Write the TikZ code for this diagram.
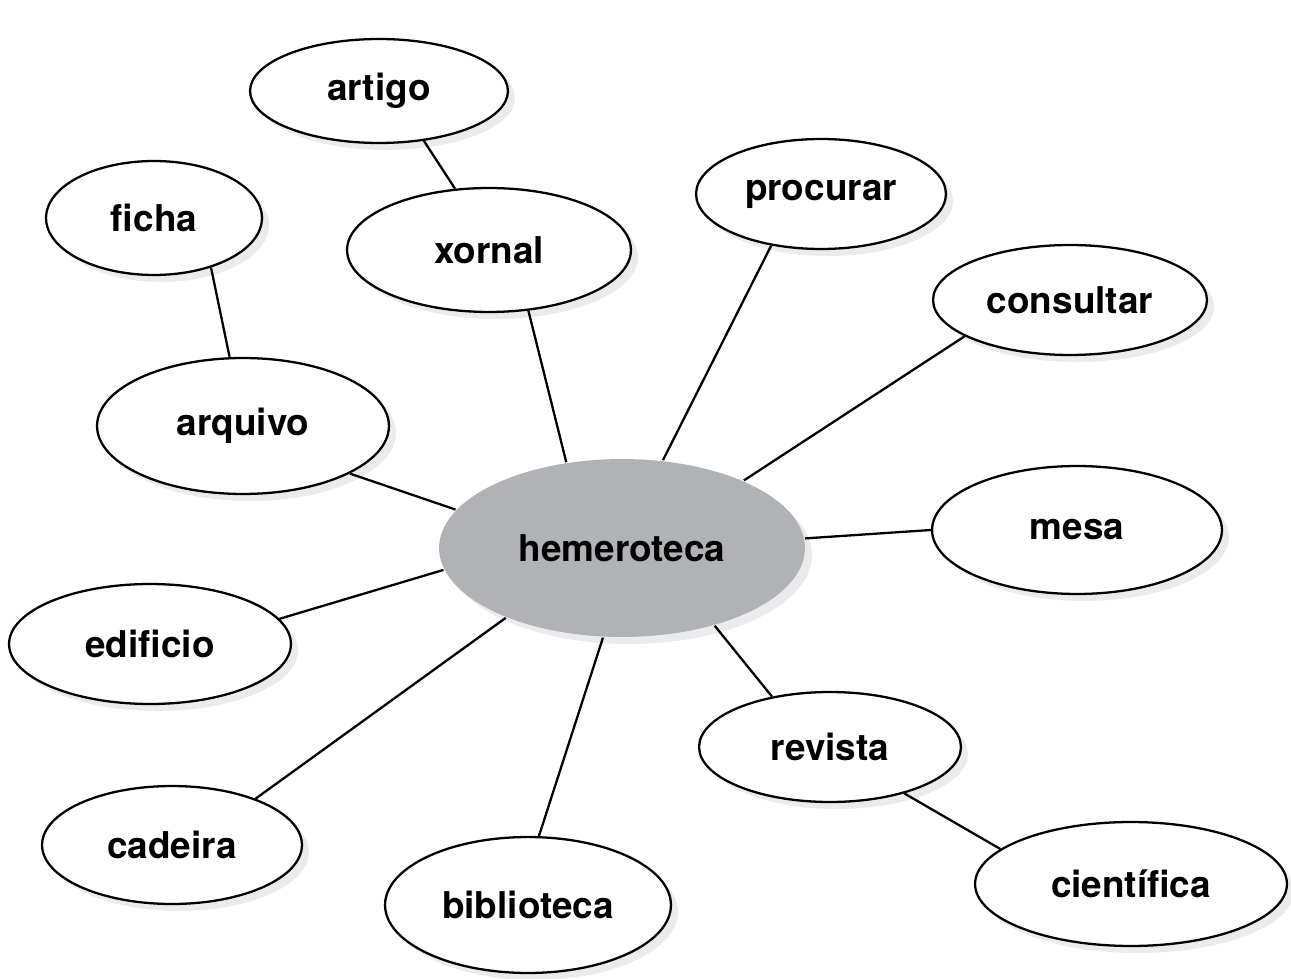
\documentclass[tikz,border=0pt]{standalone}
\usepackage{fontspec}
\setmainfont{TeX Gyre Heros}
\usepackage{tikz}
\usetikzlibrary{shapes.geometric}
\usetikzlibrary{shadows}
\definecolor{hubgray}{HTML}{B1B2B5}

\begin{document}
\begin{tikzpicture}[x=0.02cm,y=-0.02cm,
    word/.style 2 args={ellipse, draw, line width=1.3pt, fill=white,
    inner sep=0pt, minimum width=#1*0.04cm, minimum height=#2*0.04cm,
    font=\fontsize{21}{25}\selectfont\bfseries,
    drop shadow={shadow xshift=4pt, shadow yshift=-4pt, fill=black, opacity=.08}},
    link/.style={line width=1.3pt}]
    \useasboundingbox (0,0) rectangle (1291,979);

    % hub
    \node [word={183}{89}, draw=none, fill=hubgray] (hem) at (622,548) {hemeroteca};

    % words around it
    \node [word={129}{52}] (artigo) at (379,91) {artigo};
    \node [word={108}{57}] (ficha) at (154,218) {ficha};
    \node [word={142}{62}] (xornal) at (489,250) {xornal};
    \node [word={125}{55}] (procurar) at (821,194) {procurar};
    \node [word={137}{55}] (consultar) at (1070,300) {consultar};
    \node [word={146}{68}] (arquivo) at (243,426) {arquivo};
    \node [word={145}{64}] (mesa) at (1077,530) {mesa};
    \node [word={141}{60}] (edificio) at (150,644) {edificio};
    \node [word={131}{55}] (revista) at (830,747) {revista};
    \node [word={130}{59}] (cadeira) at (172,845) {cadeira};
    \node [word={143}{68}] (biblioteca) at (528,905) {biblioteca};
    \node [word={156}{62}] (cientifica) at (1131,884) {científica};

    % links
    \draw [link] (hem.123.8) -- (xornal.303.5);
    \draw [link] (hem.65.1) -- (procurar.226.6);
    \draw [link] (hem.29.9) -- (consultar.199.9);
    \draw [link] (hem.167) -- (arquivo.336.2);
    \draw [link] (hem.3.5) -- (mesa.180.4);
    \draw [link] (hem.187.8) -- (edificio.11.1);
    \draw [link] (hem.320.6) -- (revista.139.8);
    \draw [link] (hem.211.3) -- (cadeira.29.7);
    \draw [link] (hem.258.9) -- (biblioteca.81.3);
    \draw [link] (xornal.119.7) -- (artigo.312.6);
    \draw [link] (arquivo.101) -- (ficha.319.4);
    \draw [link] (revista.328.3) -- (cientifica.165.2);
\end{tikzpicture}
\end{document}
